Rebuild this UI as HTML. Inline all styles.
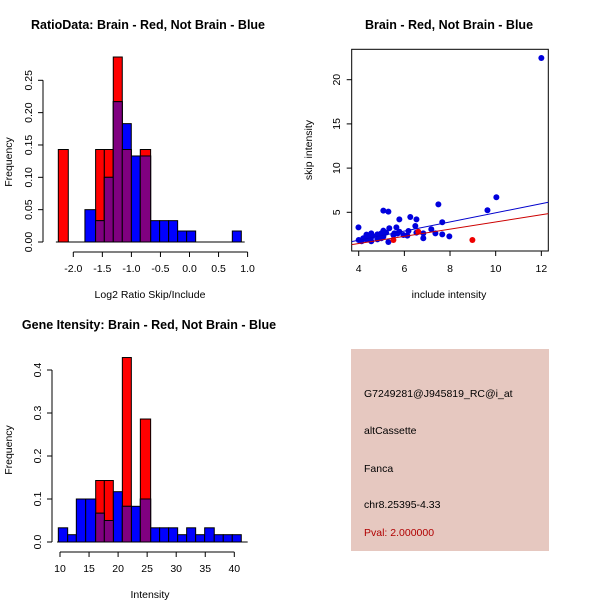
<!DOCTYPE html>
<html><head><meta charset="utf-8"><style>
html,body{margin:0;padding:0;background:#fff}
svg{display:block;font-family:"Liberation Sans",sans-serif}
</style></head><body>
<svg id="c" width="600" height="600" xmlns="http://www.w3.org/2000/svg">
<rect width="600" height="600" fill="#fff"/>
<text x="148" y="29" font-size="12.5" font-weight="bold" text-anchor="middle">RatioData: Brain - Red, Not Brain - Blue</text>
<text x="449" y="29" font-size="12.5" font-weight="bold" text-anchor="middle">Brain - Red, Not Brain - Blue</text>
<text x="149" y="329" font-size="12.5" font-weight="bold" text-anchor="middle">Gene Itensity: Brain - Red, Not Brain - Blue</text>
<text x="150" y="298" font-size="10.5" text-anchor="middle">Log2 Ratio Skip/Include</text>
<text x="12" y="162" font-size="10.5" text-anchor="middle" transform="rotate(-90 12 162)">Frequency</text>
<text x="449" y="298" font-size="10.5" text-anchor="middle">include intensity</text>
<text x="312" y="150" font-size="10.5" text-anchor="middle" transform="rotate(-90 312 150)">skip intensity</text>
<text x="150" y="598" font-size="10.5" text-anchor="middle">Intensity</text>
<text x="12" y="450" font-size="10.5" text-anchor="middle" transform="rotate(-90 12 450)">Frequency</text>
<g>
<rect x="351" y="349" width="198" height="202" fill="#e6c8c0"/>
<text x="364" y="397" font-size="10.5">G7249281@J945819_RC@i_at</text>
<text x="364" y="434" font-size="10.5">altCassette</text>
<text x="364" y="472" font-size="10.5">Fanca</text>
<text x="364" y="508" font-size="10.5">chr8.25395-4.33</text>
<text x="364" y="536" font-size="10.5" fill="#b00000">Pval: 2.000000</text>
</g>
</svg>
<script>
// ---- Plot 1 data ----
const ratioBlueBreaks = [-1.80,-1.616,-1.466,-1.312,-1.157,-1.002,-0.847,-0.669,-0.514,-0.359,-0.204,-0.049,0.106];
const ratioBlueFreq = [0.05,0.033,0.10,0.217,0.183,0.133,0.133,0.033,0.033,0.033,0.017,0.017];
const ratioBlueExtraBreaks = [0.737,0.892];
const ratioBlueExtraFreq = [0.017];
const ratioRedStart = [-2.258,-1.616,-1.466,-1.312,-1.157,-0.847];
const ratioRedEnd = [-2.086,-1.466,-1.312,-1.157,-1.002,-0.669];
const ratioRedFreq = [0.143,0.143,0.143,0.286,0.143,0.143];
const ratioXTicks = ["-2.0","-1.5","-1.0","-0.5","0.0","0.5","1.0"];
const ratioYTicks = ["0.00","0.05","0.10","0.15","0.20","0.25"];
// ---- Plot 2 data ----
const blueX = [12,10.03,9.64,7.49,7.66,7.66,7.97,7.36,7.18,6.83,6.83,6.53,6.26,6.48,6.53,6.18,6.13,5.78,5.08,5.30,5.65,5.78,5.56,5.34,5.08,4.99,4.82,4.55,4.34,3.99,4.0,4.2,4.55,5.30,4.82,5.08,5.52,5.96,4.35,4.13,4.99,4.6,5.2,5.7,4.45];
const blueY = [22.45,6.7,5.23,5.9,3.87,2.5,2.28,2.62,3.08,2.06,2.62,4.2,4.47,3.45,2.7,2.89,2.36,4.2,5.19,5.08,3.3,2.8,2.62,3.19,2.92,2.62,2.5,2.62,2.47,3.3,1.87,2.06,1.72,1.64,1.94,2.25,2.43,2.43,1.94,1.72,2.06,2.3,2.7,2.6,2.2];
const redX = [5.52,8.98,6.61];
const redY = [1.87,1.87,2.8];
const fitIntercept = [-0.22,-0.16]; // blue, red
const fitSlope = [0.516,0.407];
const scatterXTicks = [4,6,8,10,12];
const scatterYTicks = [5,10,15,20];
// ---- Plot 3 data ----
const intBreaks = [9.71,11.32,12.81,14.42,16.14,17.63,19.18,20.73,22.28,23.83,25.6,27.15,28.7,30.25,31.8,33.35,34.9,36.55,38.1,39.65,41.2];
const intBlueFreq = [0.033,0.017,0.1,0.1,0.067,0.05,0.117,0.083,0.083,0.1,0.033,0.033,0.033,0.017,0.033,0.017,0.033,0.017,0.017,0.017];
const intRedFreq = [0,0,0,0,0.143,0.143,0,0.429,0,0.286,0,0,0,0,0,0,0,0,0,0];
const intXTicks = [10,15,20,25,30,35,40];
const intYTicks = ["0.0","0.1","0.2","0.3","0.4"];

const svg = document.getElementById('c');
const NS = 'http://www.w3.org/2000/svg';
function mk(tag, attrs, parent){const e=document.createElementNS(NS,tag);for(const k in attrs)e.setAttribute(k,attrs[k]);(parent||svg).appendChild(e);return e;}
function txt(x,y,s,extra,parent){const t=mk('text',Object.assign({x:x,y:y,'font-size':10.5,'text-anchor':'middle'},extra||{}),parent);t.textContent=s;return t;}

const r1x=v=>73.3+(v+2)*58.1, r1y=v=>242-v*646.8;
const sx=v=>358.7+(v-4)*22.83, sy=v=>212.3-(v-5)*8.84;
const ix=v=>60+(v-10)*5.81, iy=v=>542-v*430;
const PURPLE='#800080', RED='#ff0000', BLUE='#0000ff';

function drawBar(g,x0,x1,h,fill,yfn,xfn,name){
  const r=mk('rect',{x:xfn(x0),y:yfn(h),width:xfn(x1)-xfn(x0),height:yfn(0)-yfn(h),fill:fill,stroke:'#000','stroke-width':1},g);
  
  
}

// ---- Plot 1 ----
const g1=mk('g',{});


const b1=[];
for(let i=0;i<ratioBlueFreq.length;i++) b1.push([ratioBlueBreaks[i],ratioBlueBreaks[i+1],ratioBlueFreq[i]]);
for(let i=0;i<ratioBlueExtraFreq.length;i++) b1.push([ratioBlueExtraBreaks[i],ratioBlueExtraBreaks[i+1],ratioBlueExtraFreq[i]]);
const red1=ratioRedFreq.map((f,i)=>[ratioRedStart[i],ratioRedEnd[i],f]);
function overlapH(bins,x0,x1){for(const b of bins){if(Math.abs(b[0]-x0)<0.02&&Math.abs(b[1]-x1)<0.02)return b[2];}return 0;}
red1.forEach(b=>drawBar(g1,b[0],b[1],b[2],RED,r1y,r1x,'ratio-red-bar'));
b1.forEach(b=>drawBar(g1,b[0],b[1],b[2],BLUE,r1y,r1x,'ratio-blue-bar'));
red1.forEach(b=>{const h=Math.min(b[2],overlapH(b1,b[0],b[1]));if(h>0)drawBar(g1,b[0],b[1],h,PURPLE,r1y,r1x,'ratio-overlap-bar');});
mk('line',{x1:r1x(-2.3),x2:r1x(0.95),y1:r1y(0),y2:r1y(0),stroke:'#000'},g1);
mk('line',{x1:r1x(-2),x2:r1x(1),y1:252,y2:252,stroke:'#000'},g1);
ratioXTicks.forEach(s=>{const x=r1x(parseFloat(s));mk('line',{x1:x,x2:x,y1:252,y2:257,stroke:'#000'},g1);const t=txt(x,272,s,{},g1);});
mk('line',{x1:43,x2:43,y1:r1y(0),y2:r1y(0.25),stroke:'#000'},g1);
ratioYTicks.forEach(s=>{const y=r1y(parseFloat(s));mk('line',{x1:38,x2:43,y1:y,y2:y,stroke:'#000'},g1);const t=txt(32,y,s,{transform:`rotate(-90 32 ${y})`},g1);});

// ---- Plot 2 ----
const g2=mk('g',{});


mk('rect',{x:351.7,y:49.3,width:196.6,height:201.7,fill:'none',stroke:'#000'},g2);
const cp=mk('clipPath',{id:'sc'},g2);mk('rect',{x:351.7,y:49.3,width:196.6,height:201.7},cp);
blueX.forEach((v,i)=>{const c=mk('circle',{cx:sx(v),cy:sy(blueY[i]),r:3,fill:'#0000dd'},g2);});
redX.forEach((v,i)=>{const c=mk('circle',{cx:sx(v),cy:sy(redY[i]),r:3,fill:'#ee0000'},g2);});
['#0000cc','#cc0000'].forEach((col,i)=>{const xa=3.69,xb=12.31;const l=mk('line',{x1:sx(xa),x2:sx(xb),y1:sy(fitIntercept[i]+fitSlope[i]*xa),y2:sy(fitIntercept[i]+fitSlope[i]*xb),stroke:col,'stroke-width':1,'clip-path':'url(#sc)'},g2);});
scatterXTicks.forEach(v=>{const x=sx(v);mk('line',{x1:x,x2:x,y1:251,y2:256,stroke:'#000'},g2);const t=txt(x,272,String(v),{},g2);});
scatterYTicks.forEach(v=>{const y=sy(v);mk('line',{x1:346.7,x2:351.7,y1:y,y2:y,stroke:'#000'},g2);const t=txt(340,y,String(v),{transform:`rotate(-90 340 ${y})`},g2);});

// ---- Plot 3 ----
const g3=mk('g',{});


intRedFreq.forEach((f,i)=>{if(f>0)drawBar(g3,intBreaks[i],intBreaks[i+1],f,RED,iy,ix,'intensity-red-bar');});
intBlueFreq.forEach((f,i)=>drawBar(g3,intBreaks[i],intBreaks[i+1],f,BLUE,iy,ix,'intensity-blue-bar'));
intRedFreq.forEach((f,i)=>{const h=Math.min(f,intBlueFreq[i]);if(h>0)drawBar(g3,intBreaks[i],intBreaks[i+1],h,PURPLE,iy,ix,'intensity-overlap-bar');});
mk('line',{x1:ix(9.5),x2:ix(42.3),y1:iy(0),y2:iy(0),stroke:'#000'},g3);
mk('line',{x1:ix(10),x2:ix(40),y1:552,y2:552,stroke:'#000'},g3);
intXTicks.forEach(v=>{const x=ix(v);mk('line',{x1:x,x2:x,y1:552,y2:557,stroke:'#000'},g3);const t=txt(x,572,String(v),{},g3);});
mk('line',{x1:52,x2:52,y1:iy(0),y2:iy(0.4),stroke:'#000'},g3);
intYTicks.forEach(s=>{const y=iy(parseFloat(s));mk('line',{x1:47,x2:52,y1:y,y2:y,stroke:'#000'},g3);const t=txt(41,y,s,{transform:`rotate(-90 41 ${y})`},g3);});
</script>
</body></html>
